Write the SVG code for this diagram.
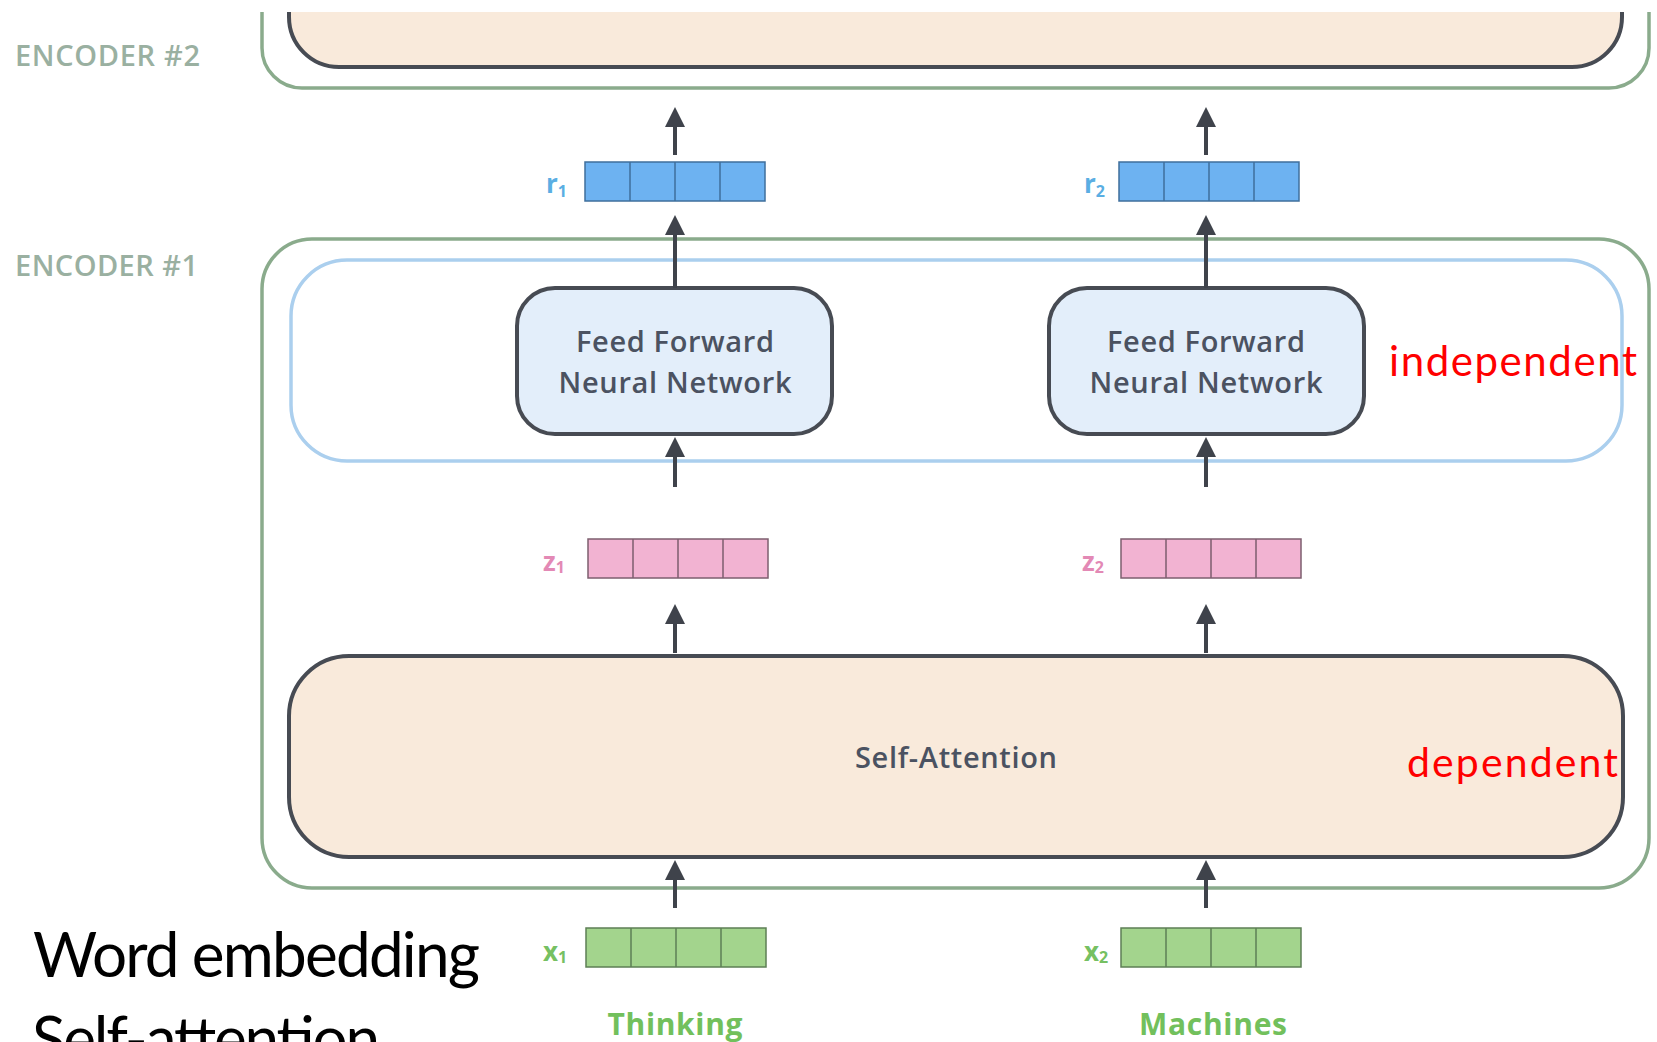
<svg xmlns="http://www.w3.org/2000/svg" width="1657" height="1042" viewBox="0 0 1657 1042">
  <style>
    .enc { fill: none; stroke: #8aab8c; stroke-width: 3.5; }
    .layer { stroke: #474b53; stroke-width: 4; }
    .ffn { fill: #e3eefa; stroke: #474b53; stroke-width: 4; }
    .attn { fill: #f9eadb; }
    .band { fill: none; stroke: #abcfee; stroke-width: 3.5; }
    .lbl { font-family: "Open Sans", "DejaVu Sans", sans-serif; font-weight: bold; }
    .box-text { font-family: "Open Sans", sans-serif; font-weight: 600; font-size: 29px; fill: #4b5261; text-anchor: middle; }
    .enc-text { font-family: "Open Sans", sans-serif; font-weight: 600; font-size: 29px; fill: #9ab0a1; }
    .note { font-family: "Lato", "Liberation Sans", sans-serif; fill: #ff0000; }
    .side { font-family: "Lato", "Liberation Sans", sans-serif; fill: #000000; }
    .word { font-family: "Open Sans", sans-serif; font-weight: bold; font-size: 30px; fill: #72c05c; text-anchor: middle; }
    .cell { stroke-width: 1.5; }
    .r { fill: #6db2f1; stroke: #3f6f9c; }
    .z { fill: #f2b3d2; stroke: #7d5f6f; }
    .x { fill: #a3d48d; stroke: #5d7f55; }
    .conn line { stroke: #3f434b; stroke-width: 4; }
  </style>
  <defs>
    <marker id="head" viewBox="0 0 20 20" refX="8" refY="10" markerWidth="20" markerHeight="20" markerUnits="userSpaceOnUse" orient="auto">
      <path d="M0,0 L20,10 L0,20 z" fill="#3f434b"/>
    </marker>
  </defs>

  <rect width="1657" height="1042" fill="#ffffff"/>

  <!-- Encoder #2 (top part, cut by the frame) -->
  <g id="encoder2">
    <path class="enc" d="M262,12 L262,48 A40,40 0 0 0 302,88 L1609,88 A40,40 0 0 0 1649,48 L1649,12"/>
    <path class="attn" d="M289,12 L289,17 A50,50 0 0 0 339,67 L1572,67 A50,50 0 0 0 1622,17 L1622,12 Z"/>
    <path class="layer" fill="none" d="M289,12 L289,17 A50,50 0 0 0 339,67 L1572,67 A50,50 0 0 0 1622,17 L1622,12"/>
    <text class="enc-text" x="15" y="66" textLength="185">ENCODER #2</text>
  </g>

  <!-- Encoder #1 -->
  <g id="encoder1">
    <rect class="enc" x="262" y="239" width="1387" height="649" rx="50"/>
    <text class="enc-text" x="15" y="276" textLength="183">ENCODER #1</text>
  </g>

  <!-- Feed-forward band -->
  <g id="ffn-band">
    <rect class="band" x="291" y="260" width="1331" height="201" rx="56"/>
  </g>

  <g id="ffn1">
    <rect class="ffn" x="517" y="288" width="315" height="146" rx="38"/>
    <text class="box-text" x="675" y="352" textLength="198">Feed Forward</text>
    <text class="box-text" x="675" y="393" textLength="233">Neural Network</text>
  </g>
  <g id="ffn2">
    <rect class="ffn" x="1049" y="288" width="315" height="146" rx="38"/>
    <text class="box-text" x="1206" y="352" textLength="198">Feed Forward</text>
    <text class="box-text" x="1206" y="393" textLength="233">Neural Network</text>
  </g>

  <g id="self-attention">
    <rect class="attn layer" x="289" y="656" width="1334" height="201" rx="60"/>
    <text class="box-text" x="956" y="768" fill="#555a62" textLength="202">Self-Attention</text>
  </g>

  <!-- Vectors -->
  <g id="r1">
    <rect class="cell r" x="585" y="162" width="180" height="39"/>
    <path class="cell r" fill="none" d="M630,162 V201 M675,162 V201 M720,162 V201"/>
    <text class="lbl" x="546" y="193" font-size="26" fill="#5aaee3">r<tspan font-size="16" dy="4">1</tspan></text>
  </g>
  <g id="r2">
    <rect class="cell r" x="1119" y="162" width="180" height="39"/>
    <path class="cell r" fill="none" d="M1164,162 V201 M1209,162 V201 M1254,162 V201"/>
    <text class="lbl" x="1084" y="193" font-size="26" fill="#5aaee3">r<tspan font-size="16" dy="4">2</tspan></text>
  </g>
  <g id="z1">
    <rect class="cell z" x="588" y="539" width="180" height="39"/>
    <path class="cell z" fill="none" d="M633,539 V578 M678,539 V578 M723,539 V578"/>
    <text class="lbl" x="543" y="571" font-size="26" fill="#e389b5">z<tspan font-size="16" dy="2">1</tspan></text>
  </g>
  <g id="z2">
    <rect class="cell z" x="1121" y="539" width="180" height="39"/>
    <path class="cell z" fill="none" d="M1166,539 V578 M1211,539 V578 M1256,539 V578"/>
    <text class="lbl" x="1082" y="571" font-size="26" fill="#e389b5">z<tspan font-size="16" dy="2">2</tspan></text>
  </g>
  <g id="x1">
    <rect class="cell x" x="586" y="928" width="180" height="39"/>
    <path class="cell x" fill="none" d="M631,928 V967 M676,928 V967 M721,928 V967"/>
    <text class="lbl" x="543" y="961" font-size="26" fill="#76c062">x<tspan font-size="16" dy="2">1</tspan></text>
  </g>
  <g id="x2">
    <rect class="cell x" x="1121" y="928" width="180" height="39"/>
    <path class="cell x" fill="none" d="M1166,928 V967 M1211,928 V967 M1256,928 V967"/>
    <text class="lbl" x="1084" y="961" font-size="26" fill="#76c062">x<tspan font-size="16" dy="2">2</tspan></text>
  </g>

  <!-- Input words -->
  <g id="word1"><text class="word" x="675" y="1035" textLength="135">Thinking</text></g>
  <g id="word2"><text class="word" x="1213" y="1035" textLength="148">Machines</text></g>

  <!-- Connectors -->
  <g id="connectors" class="conn">
    <line x1="675" y1="155" x2="675" y2="119" marker-end="url(#head)"/>
    <line x1="675" y1="288" x2="675" y2="227" marker-end="url(#head)"/>
    <line x1="675" y1="487" x2="675" y2="449" marker-end="url(#head)"/>
    <line x1="675" y1="653" x2="675" y2="616" marker-end="url(#head)"/>
    <line x1="675" y1="908" x2="675" y2="872" marker-end="url(#head)"/>
    <line x1="1206" y1="155" x2="1206" y2="119" marker-end="url(#head)"/>
    <line x1="1206" y1="288" x2="1206" y2="227" marker-end="url(#head)"/>
    <line x1="1206" y1="487" x2="1206" y2="449" marker-end="url(#head)"/>
    <line x1="1206" y1="653" x2="1206" y2="616" marker-end="url(#head)"/>
    <line x1="1206" y1="908" x2="1206" y2="872" marker-end="url(#head)"/>
  </g>

  <!-- Annotations -->
  <g id="annotations">
    <text class="note" x="1389" y="376" font-size="42" textLength="248">independent</text>
    <text class="note" x="1407" y="777" font-size="41" textLength="211">dependent</text>
    <text class="side" x="33" y="977" font-size="62" textLength="447">Word embedding</text>
    <text class="side" x="32" y="1061" font-size="62" textLength="348">Self-attention</text>
  </g>
</svg>
